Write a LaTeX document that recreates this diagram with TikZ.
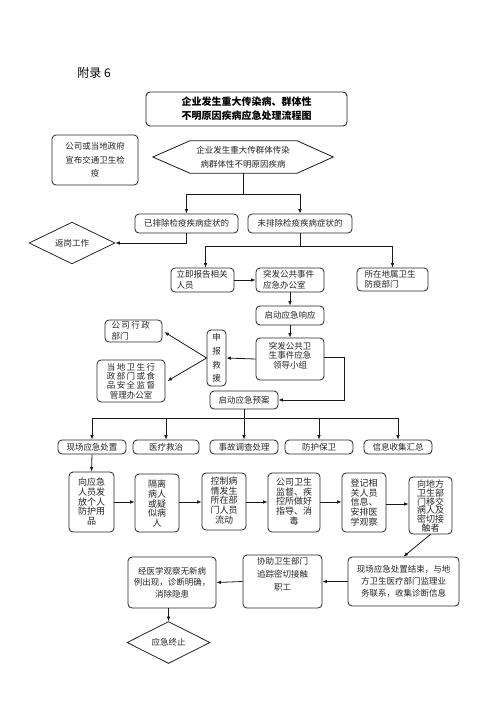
\documentclass[tikz,border=0pt]{standalone}
\usepackage{fontspec}
\newfontfamily\cjk{Noto Sans CJK SC}
\usetikzlibrary{arrows.meta,shapes.geometric}
\begin{document}
\begin{tikzpicture}[x=1pt,y=-1pt,
  box/.style={draw=black!85, line width=0.8pt, rounded corners=4pt, inner sep=0pt},
  t/.style={font=\cjk\fontsize{8.5}{12}\selectfont, align=center, inner sep=0pt, text=black!85},
  tl/.style={font=\cjk\fontsize{8.5}{10.5}\selectfont, align=left, inner sep=0pt, text=black!85},
  tc/.style={font=\cjk\fontsize{9}{9.8}\selectfont, align=center, inner sep=0pt, text=black!85},
  ln/.style={draw=black!90, line width=0.8pt},
  arr/.style={ln, -{Latex[length=4.5pt,width=3.6pt]}},
  dia/.style={draw=black!85, line width=0.8pt, diamond, inner sep=0pt}
]
\fill[white] (0,0) rectangle (496,702);
\useasboundingbox (0,0) rectangle (496,702);

% heading
\node[font=\cjk\fontsize{12}{14}\selectfont, inner sep=0pt] (fulu) at (94,73) {附录 6};

% title
\node[box, line width=0.9pt, minimum width=201, minimum height=34, align=center,
      font=\cjk\bfseries\fontsize{10}{14}\selectfont] (title) at (246.5,109)
  {企业发生重大传染病、群体性\\不明原因疾病应急处理流程图};

% left box
\node[box, t, minimum width=86, minimum height=50, font=\cjk\fontsize{8.5}{13.5}\selectfont] (left) at (95,160)
  {公司或当地政府\\宣布交通卫生检\\疫};

% hexagon
\node[t, minimum width=180, minimum height=32, font=\cjk\fontsize{8.5}{14}\selectfont] (hex) at (243,157)
  {企业发生重大传群体传染\\病群体性不明原因疾病};
\draw[ln] (hex.west) -- ([xshift=37]hex.north west) -- ([xshift=-36]hex.north east)
  -- (hex.east) -- ([xshift=-36]hex.south east) -- ([xshift=37]hex.south west) -- cycle;

% branches
\node[box, t, minimum width=103, minimum height=19] (b1) at (186.5,223.5) {已排除检疫疾病症状的};
\node[box, t, minimum width=104, minimum height=19] (b2) at (300,223.5) {未排除检疫疾病症状的};
\node[dia, t, minimum width=86, minimum height=33] (ret) at (72,243) {返岗工作};

\coordinate (j1) at (243,194);
\draw[ln] (hex.south) -- (j1);
\draw[arr] (j1) -| (b1.north);
\draw[arr] (j1) -| (b2.north);
\draw[arr] (b1.south) |- (ret.east);

% report level
\node[box, tl, minimum width=63, minimum height=24, text width=52] (r1) at (202.5,280) {立即报告相关\\人员};
\node[box, tl, minimum width=68, minimum height=24, text width=54] (r2) at (290,280) {突发公共事件\\应急办公室};
\node[box, tl, minimum width=71, minimum height=23, text width=56] (r3) at (392.5,279.5) {所在地属卫生\\防疫部门};

\coordinate (j2) at (300,246);
\draw[ln] (b2.south) -- (j2);
\draw[arr] (j2) -| ([xshift=3]r1.north);
\draw[arr] (j2) -| (r3.north);
\draw[arr] (r1.east) -- (r2.west);

\node[box, t, minimum width=68, minimum height=19] (r4) at (290,315.5) {启动应急响应};
\draw[arr] (r2.south) -- (r4.north);

\node[box, minimum width=68, minimum height=42] (r5) at (290,359) {};
\node[t, anchor=north, font=\cjk\fontsize{8.5}{9.5}\selectfont] (r5t) at ([yshift=-4]r5.north) {突发公共卫\\生事件应急\\领导小组};
\draw[arr] (r4.south) -- (r5.north);

% declare rescue
\node[box, t, minimum width=19, minimum height=56, font=\cjk\fontsize{8.5}{13.8}\selectfont] (sb) at (216.5,358) {申\\报\\救\\援};
\draw[arr] (r5.west) -- (sb.east);

\node[box, tl, minimum width=57, minimum height=22, text width=44] (gs) at (133.5,331) {公\,司\,行\,政\\部门};
\node[box, t, minimum width=68, minimum height=42, font=\cjk\fontsize{8.5}{9.3}\selectfont] (dd) at (131,381)
  {当\,地\,卫\,生\,行\\政\,部\,门\,或\,食\\品\,安\,全\,监\,督\\管理办公室};
\draw[arr] (sb.west) -- ([xshift=2,yshift=-1]gs.east);
\draw[arr] (sb.west) -- ([xshift=2]dd.east);

% plan
\node[box, t, minimum width=68, minimum height=18] (yuan) at (244,400) {启动应急预案};
\coordinate (k1) at (344,357);
\draw[ln] (r5.east |- k1) -- (k1);
\draw[arr] (k1) |- (yuan.east);

% five tasks
\node[box, t, minimum width=68, minimum height=14] (c1) at (92,447) {现场应急处置};
\node[box, t, minimum width=66, minimum height=14] (c2) at (166,447) {医疗救治};
\node[box, t, minimum width=68, minimum height=14] (c3) at (244,447) {事故调查处理};
\node[box, t, minimum width=68, minimum height=14] (c4) at (319,447) {防护保卫};
\node[box, t, minimum width=68, minimum height=14] (c5) at (398,447) {信息收集汇总};

\coordinate (j3) at (244,418);
\draw[ln] (yuan.south) -- (j3);
\draw[ln] (c1.north |- j3) -- (c5.north |- j3);
\foreach \c in {c1,c2,c3,c4,c5} \draw[arr] (\c.north |- j3) -- (\c.north);

% row of actions
\node[box, minimum width=45, minimum height=60] (d1) at (91.5,502) {};
\node[box, minimum width=44, minimum height=58] (d2) at (157,503) {};
\node[box, minimum width=44, minimum height=57] (d3) at (224,501.5) {};
\node[box, minimum width=52, minimum height=59] (d4) at (294,502.5) {};
\node[box, minimum width=44, minimum height=59] (d5) at (364,502.5) {};
\node[box, minimum width=43, minimum height=57] (d6) at (430.5,505.5) {};

\node[tc, anchor=north] (d1t) at ([yshift=-6]d1.north) {向应急\\人员发\\放个人\\防护用\\品};
\node[tc, anchor=north] (d2t) at ([yshift=-6]d2.north) {隔离\\病人\\或疑\\似病\\人};
\node[tc, anchor=north] (d3t) at ([yshift=-4]d3.north) {控制病\\情发生\\所在部\\门人员\\流动};
\node[tc, anchor=north] (d4t) at ([yshift=-5]d4.north) {公司卫生\\监督、疾\\控所做好\\指导、消\\毒};
\node[tc, anchor=north] (d5t) at ([yshift=-6]d5.north) {登记相\\关人员\\信息、\\安排医\\学观察};
\node[tc, anchor=north, font=\cjk\fontsize{9}{8.8}\selectfont] (d6t) at ([yshift=-3]d6.north) {向地方\\卫生部\\门移交\\病人及\\密切接\\触者};

\draw[arr] (c1.south) -- (d1.north);
\draw[arr] (d1.east |- 0,502) -- (d2.west |- 0,502);
\draw[arr] (d2.east |- 0,502) -- (d3.west |- 0,502);
\draw[arr] (d3.east |- 0,502) -- (d4.west |- 0,502);
\draw[arr] (d4.east |- 0,502) -- (d5.west |- 0,502);
\draw[arr] (d5.east |- 0,504) -- (d6.west |- 0,504);

% final row
\node[box, t, minimum width=111, minimum height=49] (e3) at (403.5,581.5) {现场应急处置结束，与地\\方卫生医疗部门监理业\\务联系，收集诊断信息};
\node[box, t, minimum width=79, minimum height=53, font=\cjk\fontsize{8.5}{13}\selectfont] (e2) at (282.5,581.5) {协助卫生部门\\追踪密切接触\\职工\\[3pt]};
\node[box, t, minimum width=88, minimum height=51, font=\cjk\fontsize{8.5}{11.5}\selectfont] (e1) at (172,582.5) {经医学观察无新病\\例出现，诊断明确，\\消除隐患};
\node[dia, t, minimum width=83, minimum height=31] (end) at (168.5,642.5) {应急终止};

\draw[arr] (d6.south) -- (e3.north);
\draw[arr] (e3.west) -- (e2.east);
\draw[arr] (e2.west) -- (e1.east);
\draw[arr] (end.north |- e1.south) -- (end.north);
\end{tikzpicture}
\end{document}
